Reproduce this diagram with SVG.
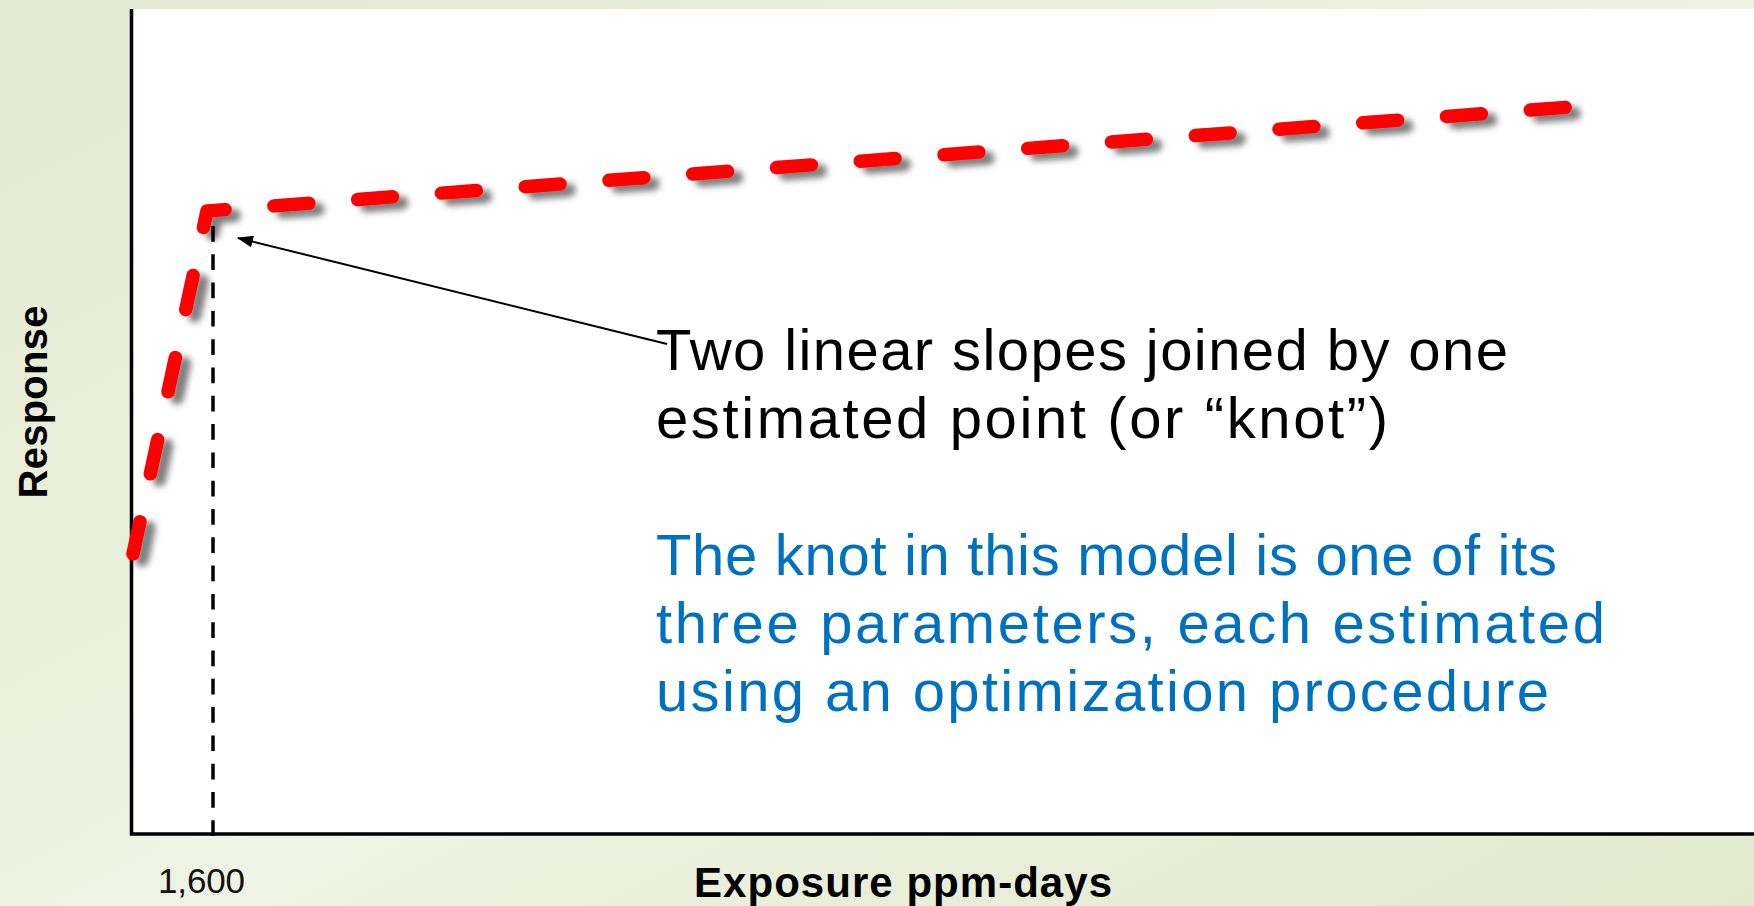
<svg xmlns="http://www.w3.org/2000/svg" width="1754" height="906" viewBox="0 0 1754 906">
  <defs>
    <linearGradient id="bg" x1="0" y1="0" x2="1" y2="1">
      <stop offset="0" stop-color="#e3e9cf"/>
      <stop offset="0.55" stop-color="#eff3e3"/>
      <stop offset="1" stop-color="#e1e9cc"/>
    </linearGradient>
    <filter id="shadow" x="-5%" y="-20%" width="115%" height="150%">
      <feDropShadow dx="9" dy="6" stdDeviation="3" flood-color="#000" flood-opacity="0.5"/>
    </filter>
    <marker id="arrow" viewBox="0 0 16 12" refX="15" refY="6" markerWidth="16" markerHeight="12" markerUnits="userSpaceOnUse" orient="auto">
      <path d="M0,0 L16,6 L0,12 Z" fill="#000"/>
    </marker>
  </defs>
  <style>
    .axis { stroke: #000; stroke-width: 3.5; fill: none; }
    .guide { stroke: #000; stroke-width: 3.5; stroke-dasharray: 15.7 12.6; fill: none; }
    .curve { stroke: #ff0000; stroke-width: 13.5; stroke-linecap: round; stroke-linejoin: round; stroke-dasharray: 35 49; stroke-dashoffset: 2; fill: none; }
    .pointer { stroke: #000; stroke-width: 2; fill: none; }
    .note { font-family: "Liberation Sans", Arial, sans-serif; font-size: 58px; }
    .black { fill: #000; }
    .blue { fill: #0070c0; }
    .label { font-family: "Liberation Sans", Arial, sans-serif; font-weight: bold; fill: #000; }
    .tick { font-family: "Liberation Sans", Arial, sans-serif; font-size: 35px; fill: #111; }
  </style>

  <rect x="0" y="0" width="1754" height="906" fill="url(#bg)"/>
  <rect id="plot-area" x="131" y="9" width="1623" height="825" fill="#fff"/>

  <g id="axes">
    <path class="axis" d="M131.5,9 V834 H1754"/>
  </g>

  <g id="knot-guide">
    <path class="guide" d="M213,836 V207"/>
  </g>

  <g id="model-curve">
    <path class="curve" filter="url(#shadow)" d="M133,554 L207,211 L1570,107"/>
  </g>

  <g id="connectors">
    <path class="pointer" marker-end="url(#arrow)" d="M667,344 L238,238"/>
  </g>

  <g id="note-knot">
    <text class="note black" x="656" y="370" textLength="852">Two linear slopes joined by one</text>
    <text class="note black" x="656" y="438" textLength="732">estimated point (or “knot”)</text>
  </g>

  <g id="note-parameters">
    <text class="note blue" x="656" y="575" textLength="901">The knot in this model is one of its</text>
    <text class="note blue" x="656" y="643" textLength="949">three parameters, each estimated</text>
    <text class="note blue" x="656" y="711" textLength="893">using an optimization procedure</text>
  </g>

  <g id="y-label">
    <text class="label" font-size="40" text-anchor="middle" textLength="193" transform="translate(47,402) rotate(-90)">Response</text>
  </g>

  <g id="x-label">
    <text class="label" font-size="42" x="694" y="897" textLength="418">Exposure ppm-days</text>
  </g>

  <g id="x-tick">
    <text class="tick" x="158" y="893" textLength="87">1,600</text>
  </g>
</svg>
